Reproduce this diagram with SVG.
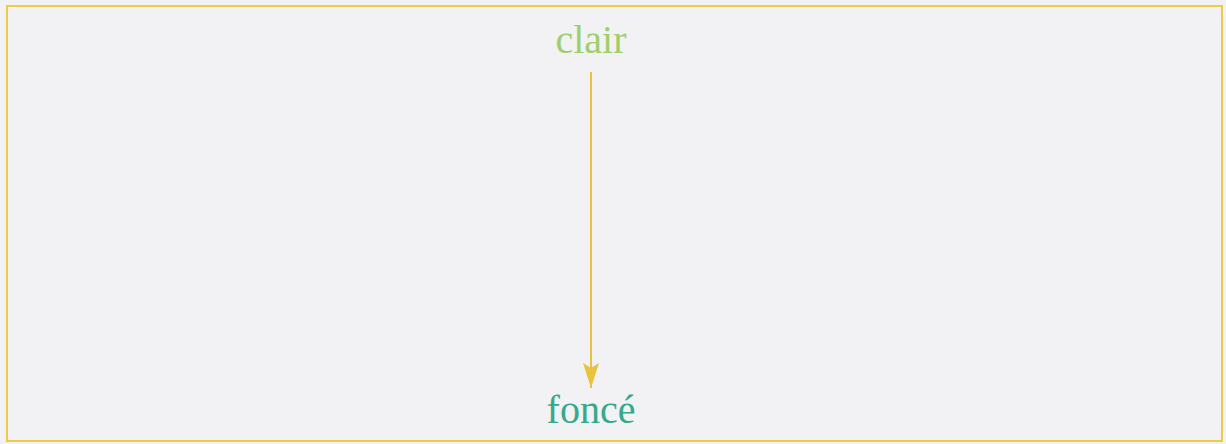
<svg xmlns="http://www.w3.org/2000/svg" width="1226" height="444" viewBox="0 0 1226 444">
<style>
.lbl{font-family:"Liberation Serif","Times New Roman",serif;font-size:40px;text-anchor:middle}
.clair{fill:#9dcf6c}
.fonce{fill:#35a98c}
.edge{stroke:#e9c23e;stroke-width:2;fill:none}
</style>
<defs>
<marker id="arr" markerWidth="28" markerHeight="18" refX="26" refY="9" orient="auto" markerUnits="userSpaceOnUse" viewBox="0 0 28 18">
<path d="M26,9 L1,1 L6,9 L1,17 Z" fill="#e9c23e"/>
</marker>
</defs>
<rect x="0" y="0" width="1226" height="444" fill="#f2f1f3"/>
<rect x="7" y="6" width="1215" height="435" fill="none" stroke="#ecca4a" stroke-width="2"/>
<g id="clair"><text class="lbl clair" x="591" y="53">clair</text></g>
<g id="fonce"><text class="lbl fonce" x="591" y="423">foncé</text></g>
<g id="connectors">
<line class="edge" x1="591" y1="72" x2="591" y2="388" marker-end="url(#arr)"/>
</g>
</svg>
